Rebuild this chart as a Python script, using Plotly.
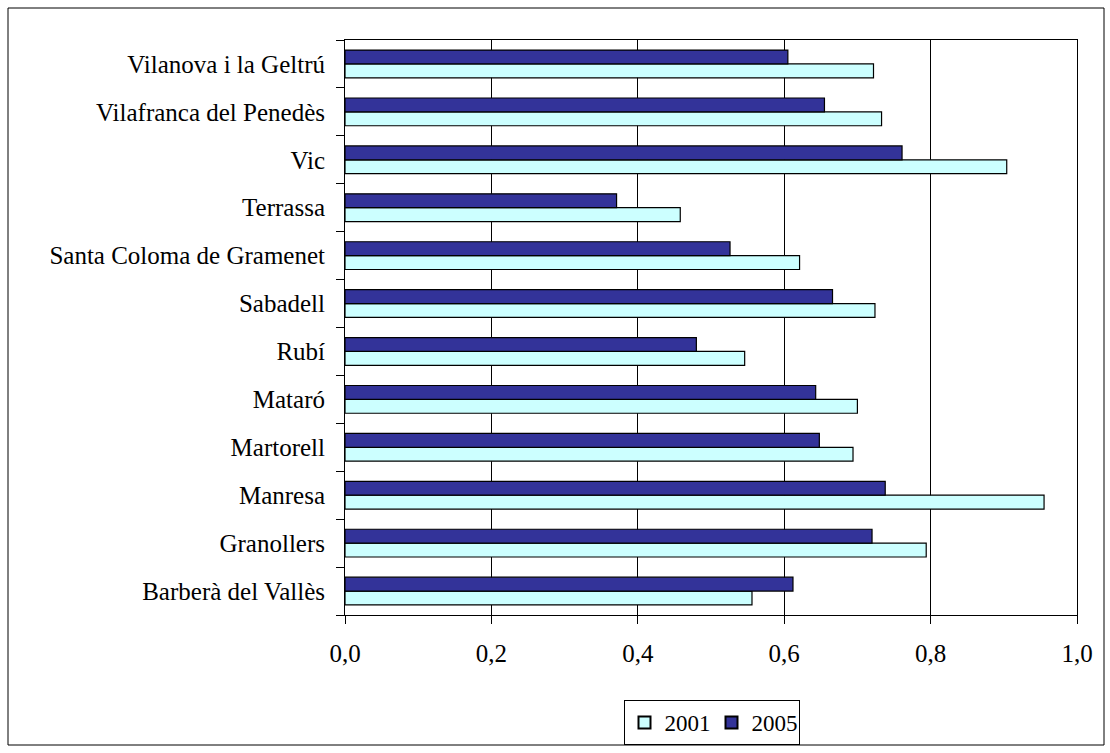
import plotly.graph_objects as go

categories = ["Barberà del Vallès", "Granollers", "Manresa", "Martorell", "Mataró", "Rubí",
              "Sabadell", "Santa Coloma de Gramenet", "Terrassa", "Vic",
              "Vilafranca del Penedès", "Vilanova i la Geltrú"]
values_2001 = [0.556, 0.794, 0.955, 0.694, 0.700, 0.546, 0.724, 0.621, 0.458, 0.904, 0.733, 0.722]
values_2005 = [0.612, 0.720, 0.738, 0.648, 0.643, 0.480, 0.666, 0.526, 0.371, 0.761, 0.655, 0.605]
series_names = ["2001", "2005"]
x_ticks = [0.0, 0.2, 0.4, 0.6, 0.8, 1.0]

FONT = "Liberation Serif, Times New Roman, serif"

fig = go.Figure()
fig.add_trace(go.Bar(y=categories, x=values_2001, name=series_names[0], orientation="h",
                     marker=dict(color="#CCFFFF", line=dict(color="black", width=1.2))))
fig.add_trace(go.Bar(y=categories, x=values_2005, name=series_names[1], orientation="h",
                     marker=dict(color="#333399", line=dict(color="black", width=1.2))))

W, H = 1110, 753
L, R, T, B = 345, 1077, 40, 615

fig.update_layout(
    width=W, height=H,
    margin=dict(l=L, r=W - R, t=T, b=H - B, autoexpand=False),
    paper_bgcolor="white", plot_bgcolor="white",
    font=dict(family=FONT, size=25, color="black"),
    barmode="group", bargap=0.42, bargroupgap=0,
    showlegend=True,
    legend=dict(orientation="h", x=(711.5 - L) / (R - L), xanchor="center",
                y=(B - 700) / (B - T), yanchor="top",
                bordercolor="black", borderwidth=1, bgcolor="white",
                font=dict(family=FONT, size=23), itemsizing="constant",
                tracegroupgap=0, itemwidth=30, entrywidth=42, entrywidthmode="pixels"),
    separators=",.",
    xaxis=dict(range=[0, 1], tickvals=x_ticks, tickformat=".1f",
               showgrid=True, gridcolor="black", gridwidth=1,
               showline=True, linecolor="black", linewidth=1, mirror=True,
               ticks="outside", ticklen=8, tickcolor="black", tickwidth=1,
               ticklabelstandoff=8,
               zeroline=False, fixedrange=True),
    yaxis=dict(type="category", categoryorder="array", categoryarray=categories,
               showgrid=False, showline=True, linecolor="black", linewidth=1, mirror=True,
               ticks="outside", ticklen=8, tickcolor="black", tickwidth=1,
               tickson="boundaries", ticklabelstandoff=14, fixedrange=True),
    shapes=[dict(type="rect", xref="paper", yref="paper",
                 x0=(8 - L) / (R - L), x1=(1104 - L) / (R - L),
                 y0=(B - 745) / (B - T), y1=(B - 8) / (B - T),
                 line=dict(color="black", width=1), fillcolor="rgba(0,0,0,0)", layer="below")],
)

fig.write_html("out.html", config={"displayModeBar": False},
               post_script="document.body.style.margin='0';document.body.style.overflow='hidden';")
